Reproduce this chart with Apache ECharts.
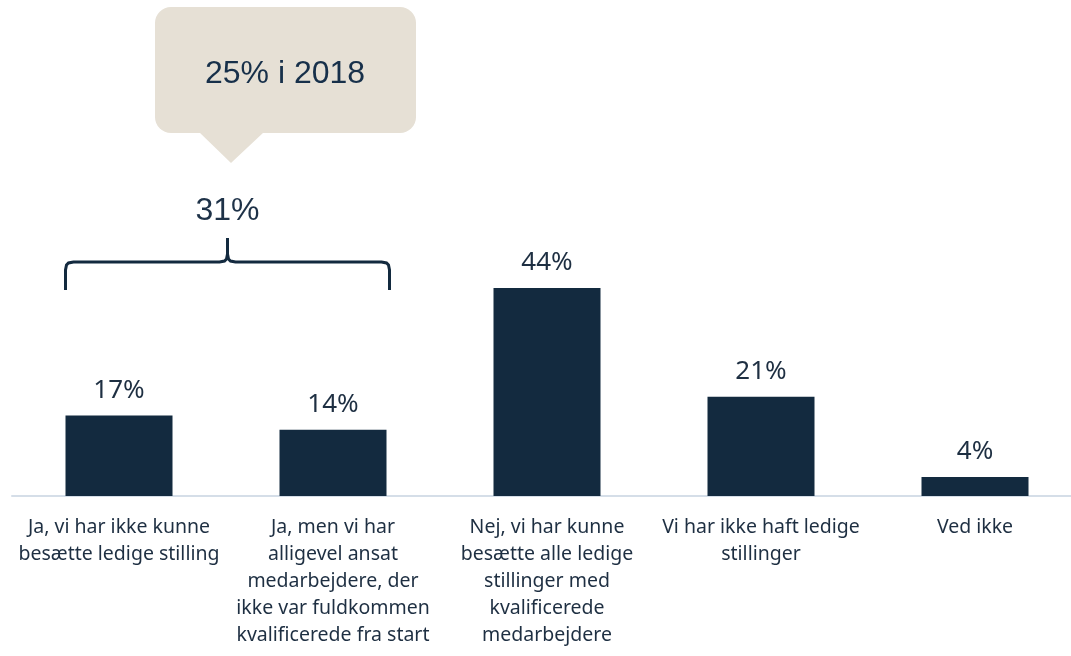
<!DOCTYPE html>
<html>
<head>
<meta charset="utf-8">
<script src="https://cdn.jsdelivr.net/npm/echarts@6/dist/echarts.min.js"></script>
<style>
  html, body { margin: 0; padding: 0; background: #fff; overflow: hidden; }
  #chart { width: 1082px; height: 656px; }
</style>
</head>
<body>
<div id="chart"></div>
<script>
const categories = [
  'Ja, vi har ikke kunne\nbesætte ledige stilling',
  'Ja, men vi har\nalligevel ansat\nmedarbejdere, der\nikke var fuldkommen\nkvalificerede fra start',
  'Nej, vi har kunne\nbesætte alle ledige\nstillinger med\nkvalificerede\nmedarbejdere',
  'Vi har ikke haft ledige\nstillinger',
  'Ved ikke'
];
const values = [17, 14, 44, 21, 4];
const groupLabel = '31%';
const calloutText = '25% i 2018';

const navy = '#132a3f';
let myChart = echarts.init(document.getElementById('chart'));
myChart.setOption({
  animation: false,
  grid: { left: 12, top: 23, right: 0, bottom: 160 },
  xAxis: {
    type: 'category',
    data: categories,
    axisLine: { lineStyle: { color: '#d5dee8', width: 2 } },
    axisTick: { show: false },
    axisLabel: {
      interval: 0,
      margin: 18,
      fontFamily: 'Noto Sans',
      fontSize: 19.5,
      lineHeight: 27,
      color: '#1e2f42'
    }
  },
  yAxis: { type: 'value', min: 0, max: 100, show: false },
  series: [{
    type: 'bar',
    data: values,
    barWidth: '50%',
    itemStyle: { color: navy },
    label: {
      show: true,
      position: 'top',
      distance: 12,
      formatter: '{c}%',
      fontFamily: 'Noto Sans',
      fontSize: 26,
      color: '#1e2f42'
    }
  }]
});

// annotation: brace over the first two bars, plus the callout
const half = 107 / 2;
const x0 = myChart.convertToPixel({ xAxisIndex: 0 }, 0) - half;
const x1 = myChart.convertToPixel({ xAxisIndex: 0 }, 1) + half + 3;
const xm = (x0 + x1) / 2;
const yb = 262, yEnd = 290, yTop = 238, r = 8;
const braceStyle = { stroke: navy, lineWidth: 3, fill: null };
myChart.setOption({
  graphic: [
    { type: 'polyline', shape: { points: [[x0, yEnd], [x0, yb + r], [x0 + 1, yb + 3], [x0 + 3, yb + 1], [x0 + r, yb], [xm - r, yb], [xm - 3, yb - 1], [xm - 1, yb - 3], [xm, yb - r]] }, style: braceStyle },
    { type: 'polyline', shape: { points: [[x1, yEnd], [x1, yb + r], [x1 - 1, yb + 3], [x1 - 3, yb + 1], [x1 - r, yb], [xm + r, yb], [xm + 3, yb - 1], [xm + 1, yb - 3], [xm, yb - r], [xm, yTop]] }, style: braceStyle },
    { type: 'text', x: xm, y: 211, style: { text: groupLabel, fontFamily: 'Liberation Sans', fontSize: 32, fill: '#1e3248', align: 'center', verticalAlign: 'middle' } },
    { type: 'rect', shape: { x: 155, y: 7, width: 261, height: 126, r: 16 }, style: { fill: '#e6e0d5' } },
    { type: 'polygon', shape: { points: [[199, 132], [264, 132], [231, 163]] }, style: { fill: '#e6e0d5' } },
    { type: 'text', x: 285, y: 74, style: { text: calloutText, fontFamily: 'Liberation Sans', fontSize: 32, fill: '#17304a', align: 'center', verticalAlign: 'middle' } }
  ]
});
</script>
</body>
</html>
